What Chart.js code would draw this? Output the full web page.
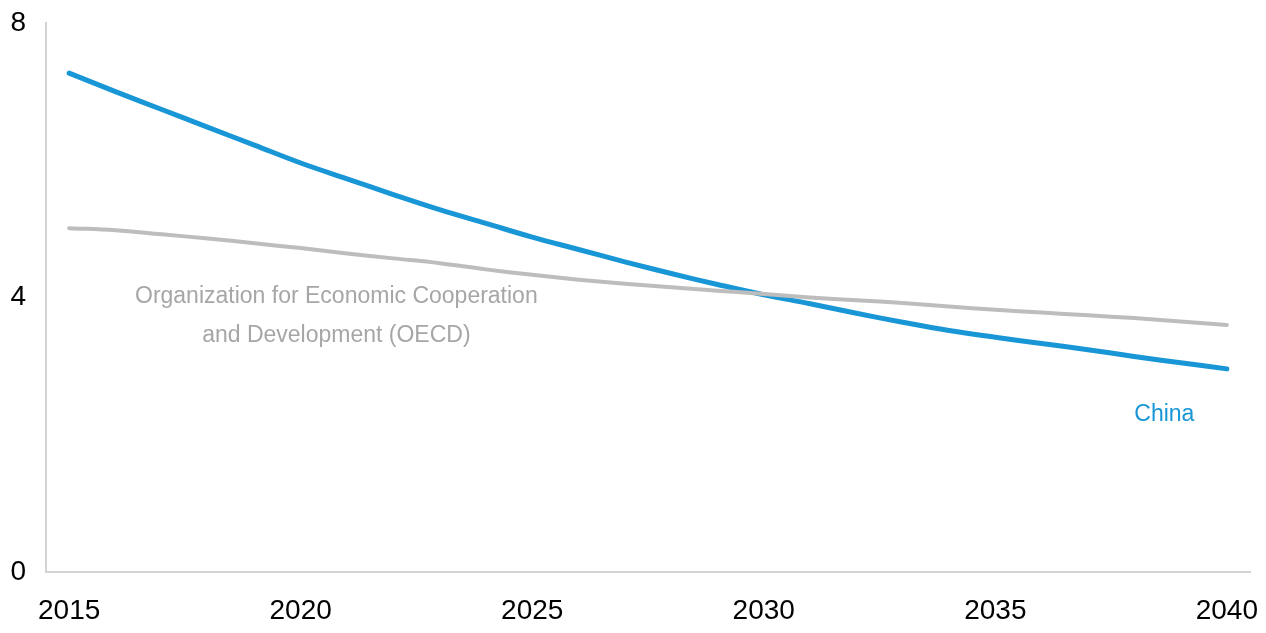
<!DOCTYPE html>
<html>
<head>
<meta charset="utf-8">
<style>
  html, body { margin: 0; padding: 0; background: #fff; }
  #wrap { width: 1266px; height: 633px; }
</style>
<script src="https://cdn.jsdelivr.net/npm/chart.js@4"></script>
</head>
<body>
<div id="wrap"><canvas id="lineChart" width="1266" height="633"></canvas></div>
<script>
const years = [2015, 2016, 2017, 2018, 2019, 2020, 2021, 2022, 2023, 2024, 2025, 2026, 2027,
  2028, 2029, 2030, 2031, 2032, 2033, 2034, 2035, 2036, 2037, 2038, 2039, 2040];
const chinaValues = [7.27, 7.0, 6.74, 6.48, 6.22, 5.96, 5.73, 5.5, 5.28, 5.08, 4.88, 4.7, 4.52,
  4.35, 4.19, 4.04, 3.91, 3.77, 3.64, 3.52, 3.42, 3.33, 3.24, 3.14, 3.05, 2.96];
const oecdValues = [5.01, 4.98, 4.92, 4.86, 4.79, 4.72, 4.64, 4.57, 4.5, 4.41, 4.33, 4.26, 4.2,
  4.15, 4.1, 4.05, 4.0, 3.96, 3.92, 3.87, 3.82, 3.78, 3.74, 3.7, 3.65, 3.6];
const yTicks = [0, 4, 8];

// series labels drawn inside the plot, anchored on data coordinates
const seriesLabels = [
  { lines: ["Organization for Economic Cooperation", "and Development (OECD)"], year: 2020.77, value: 4.01, color: "#a6a6a6", size: 23 },
  { lines: ["China"], year: 2038.65, value: 2.3, color: "#1896d5", size: 23 },
];

const fontFamily = "'Liberation Sans', Arial, sans-serif";

const labelPlugin = {
  id: "seriesLabels",
  afterDatasetsDraw(chart) {
    const ctx = chart.ctx;
    const x = chart.scales.x;
    const y = chart.scales.y;
    const step = x.getPixelForValue(1) - x.getPixelForValue(0);
    ctx.save();
    ctx.textAlign = "center";
    ctx.textBaseline = "middle";
    seriesLabels.forEach((lab) => {
      const px = x.getPixelForValue(0) + (lab.year - years[0]) * step;
      const py = y.getPixelForValue(lab.value);
      ctx.font = lab.size + "px " + fontFamily;
      ctx.fillStyle = lab.color;
      lab.lines.forEach((line, i) => {
        ctx.fillText(line, px, py + i * 39);
      });
    });
    ctx.restore();
  },
};

const ctx = document.getElementById("lineChart").getContext("2d");
const lineChart = new Chart(ctx, {
  type: "line",
  data: {
    labels: years.map(String),
    datasets: [
      {
        label: "OECD",
        data: oecdValues,
        borderColor: "#bdbdbd",
        borderWidth: 4,
        pointRadius: 0,
        tension: 0.4,
        borderCapStyle: "round",
      },
      {
        label: "China",
        data: chinaValues,
        borderColor: "#1896d5",
        borderWidth: 5,
        pointRadius: 0,
        tension: 0.4,
        borderCapStyle: "round",
      },
    ],
  },
  options: {
    responsive: false,
    animation: false,
    layout: { padding: { top: 23, right: 16, left: 0, bottom: 0 } },
    plugins: {
      legend: { display: false },
      tooltip: { enabled: false },
    },
    scales: {
      x: {
        offset: true,
        grid: { display: false, drawTicks: false },
        border: { display: true, color: "#d4d4d4", width: 2 },
        ticks: {
          autoSkip: false,
          maxRotation: 0,
          padding: 22,
          color: "#000",
          font: { family: fontFamily, size: 28 },
          callback: function (value, index) {
            const yr = years[index];
            return yr % 5 === 0 ? String(yr) : "";
          },
        },
        afterFit: (scale) => {
          scale.height = 61;
          scale.paddingLeft = 0;
          scale.paddingRight = 0;
        },
      },
      y: {
        min: 0,
        max: 8,
        afterBuildTicks: (scale) => {
          scale.ticks = yTicks.map((v) => ({ value: v }));
        },
        grid: { display: false, drawTicks: false },
        border: { display: true, color: "#d4d4d4", width: 2 },
        ticks: {
          padding: 20,
          color: "#000",
          font: { family: fontFamily, size: 28 },
        },
        afterFit: (scale) => {
          scale.width = 46;
          scale.paddingTop = 0;
          scale.paddingBottom = 0;
        },
      },
    },
  },
  plugins: [labelPlugin],
});
</script>
</body>
</html>
